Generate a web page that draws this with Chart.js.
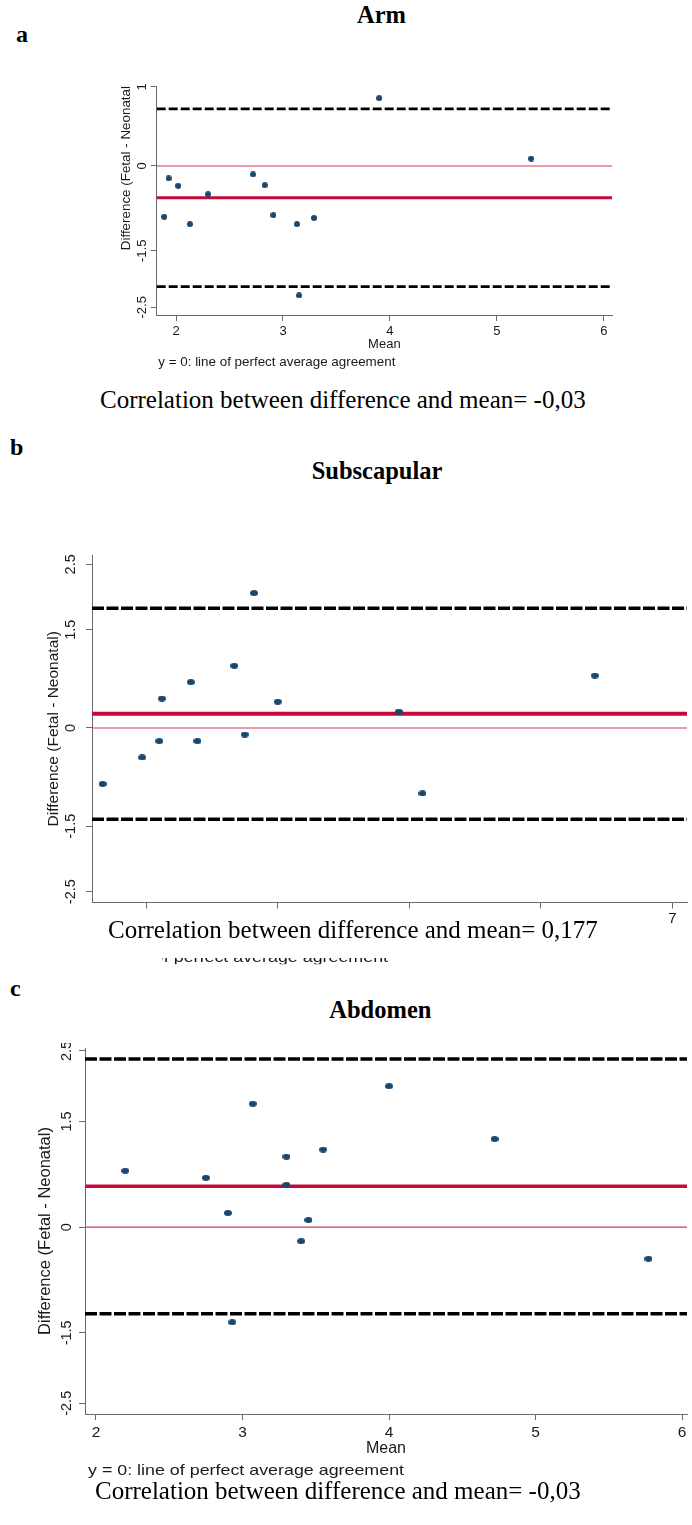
<!DOCTYPE html>
<html>
<head>
<meta charset="utf-8">
<script src="https://cdn.jsdelivr.net/npm/chart.js@4.4.1/dist/chart.umd.min.js"></script>
<style>
  body { margin: 0; background: #fff; }
  #page { position: relative; width: 692px; height: 1525px; overflow: hidden; background: #fff; }
  .wrap { position: absolute; }
  .t { position: absolute; white-space: nowrap; line-height: 1; color: #000; }
  .serif { font-family: "Liberation Serif", "Times New Roman", serif; }
  .bold { font-weight: bold; }
  .sans { font-family: "Liberation Sans", Arial, sans-serif; color: #1a1a1a; transform-origin: 0 0; }
  .panel { font-size: 24px; }
  .head { font-size: 24.5px; }
  .caption { font-size: 25px; }
</style>
</head>
<body>
<div id="page">
  <div class="wrap" style="left:80px;top:76px;width:540px;height:300px"><canvas id="armChart"></canvas></div>
  <div class="wrap" style="left:20px;top:548px;width:672px;height:412px"><canvas id="subChart"></canvas></div>
  <div class="wrap" style="left:20px;top:1043px;width:672px;height:419px"><canvas id="abdChart"></canvas></div>

  <div class="t serif bold panel" style="left:16px;top:21.6px">a</div>
  <div class="t serif bold head" style="left:357px;top:2.5px">Arm</div>
  <div class="t sans" style="left:158.3px;top:355.2px;font-size:13.4px">y = 0: line of perfect average agreement</div>
  <div class="t serif caption" style="left:100px;top:387px">Correlation between difference and mean= -0,03</div>

  <div class="t serif bold panel" style="left:10px;top:435px">b</div>
  <div class="t serif bold head" style="left:311.7px;top:458.5px">Subscapular</div>
  <!-- the subscapular note is mostly hidden behind the pasted caption -->
  <div class="t sans" style="left:72px;top:949.3px;font-size:15px;transform:scaleX(1.19);clip-path:inset(0 0 0 76px)">y = 0: line of perfect average agreement</div>
  <div class="t" style="left:70px;top:909px;width:540px;height:49px;background:#fff"></div>
  <div class="t serif caption" style="left:108px;top:916.6px">Correlation between difference and mean= 0,177</div>

  <div class="t serif bold panel" style="left:10px;top:976px">c</div>
  <div class="t serif bold head" style="left:329.3px;top:997.5px">Abdomen</div>
  <div class="t sans" style="left:88.3px;top:1462px;font-size:15px;transform:scaleX(1.19)">y = 0: line of perfect average agreement</div>
  <div class="t serif caption" style="left:95px;top:1478px">Correlation between difference and mean= -0,03</div>
</div>

<script>
// Arm
const armMean = [1.89, 1.93, 2.02, 2.13, 2.30, 2.72, 2.83, 2.91, 3.13, 3.29, 3.15, 3.90, 5.32];
const armDiff = [-0.90, -0.22, -0.35, -1.03, -0.50, -0.15, -0.34, -0.87, -1.03, -0.92, -2.29, 1.20, 0.13];
const armLimits = [1.01, -0.56, -2.135]; // upper limit, mean difference, lower limit
const armXTicks = [2, 3, 4, 5, 6];
const armYTicks = [1.4, 0, -1.5, -2.5];
const armYLabels = ['1', '0', '-1.5', '-2.5'];

// Subscapular
const subMean = [2.67, 2.97, 3.10, 3.12, 3.34, 3.39, 3.67, 3.75, 3.82, 4.00, 4.92, 5.10, 6.41];
const subDiff = [-0.855, -0.45, -0.20, 0.45, 0.70, -0.20, 0.95, -0.10, 2.06, 0.40, 0.25, -1.00, 0.80];
const subLimits = [1.828, 0.218, -1.395];
const subXTicks = [3, 4, 5, 6, 7];
const subYTicks = [2.5, 1.5, 0, -1.5, -2.5];
const subYLabels = ['2.5', '1.5', '0', '-1.5', '-2.5'];

// Abdomen
const abdMean = [2.20, 2.75, 2.90, 2.93, 3.07, 3.30, 3.30, 3.40, 3.45, 3.55, 4.00, 4.72, 5.77];
const abdDiff = [0.80, 0.70, 0.20, -1.35, 1.75, 1.00, 0.60, -0.20, 0.10, 1.10, 2.00, 1.25, -0.45];
const abdLimits = [2.386, 0.58, -1.229];
const abdXTicks = [2, 3, 4, 5, 6];
const abdYTicks = [2.5, 1.5, 0, -1.5, -2.5];
const abdYLabels = ['2.5', '1.5', '0', '-1.5', '-2.5'];

const SANS = '"Liberation Sans", Arial, sans-serif';
const NAVY = '#1a476f';
const INK = '#1a1a1a';
const AXIS = '#6a6a6a';

// small ellipse used as marker (the stata export is a bit stretched sideways)
function dot(w, h) {
    const c = document.createElement('canvas');
    c.width = w;
    c.height = h;
    const g = c.getContext('2d');
    g.fillStyle = NAVY;
    g.beginPath();
    g.ellipse(w / 2, h / 2, w / 2, h / 2, 0, 0, Math.PI * 2);
    g.fill();
    return c;
}

// y tick labels are drawn turned, like stata does
const turnedYLabels = {
    id: 'turnedYLabels',
    afterDraw(chart, args, opts) {
        const s = chart.scales.y;
        const ctx = chart.ctx;
        ctx.save();
        ctx.fillStyle = INK;
        ctx.font = opts.size + 'px ' + SANS;
        ctx.textAlign = 'center';
        ctx.textBaseline = 'middle';
        opts.values.forEach((v, i) => {
            ctx.save();
            ctx.translate(s.right - opts.offset, s.getPixelForValue(v));
            ctx.rotate(-Math.PI / 2);
            ctx.fillText(opts.labels[i], 0, 0);
            ctx.restore();
        });
        ctx.restore();
    }
};

function drawPanel(id, p) {
    const points = p.mean.map((m, i) => ({ x: m, y: p.diff[i] }));
    const across = v => [{ x: p.xRange[0], y: v }, { x: p.xRange[1], y: v }];
    const flat = { type: 'line', pointRadius: 0, pointHitRadius: 0, fill: false, tension: 0 };

    new Chart(document.getElementById(id), {
        type: 'scatter',
        data: {
            datasets: [
                { data: points, pointStyle: dot(p.dot[0], p.dot[1]), pointRadius: 4 },
                { ...flat, data: across(p.limits[1]), borderColor: '#c40a3a', borderWidth: p.meanW },
                { ...flat, data: across(0), borderColor: '#d63a58', borderWidth: 1.2 },
                { ...flat, data: across(p.limits[0]), borderColor: '#000', borderWidth: p.dashW, borderDash: p.dash },
                { ...flat, data: across(p.limits[2]), borderColor: '#000', borderWidth: p.dashW, borderDash: p.dash }
            ]
        },
        options: {
            responsive: true,
            maintainAspectRatio: false,
            animation: false,
            devicePixelRatio: 1,
            layout: { padding: p.pad },
            plugins: {
                legend: { display: false },
                tooltip: { enabled: false },
                turnedYLabels: { values: p.yTicks, labels: p.yLabels, offset: p.yLabelOffset, size: p.yLabelSize }
            },
            scales: {
                x: {
                    type: 'linear',
                    min: p.xRange[0],
                    max: p.xRange[1],
                    afterBuildTicks: s => { s.ticks = p.xTicks.map(v => ({ value: v })); },
                    afterFit: s => { s.height = p.xAxisH; },
                    grid: { drawOnChartArea: false, drawTicks: true, tickLength: 6, color: AXIS },
                    border: { display: true, color: AXIS, width: 1 },
                    ticks: {
                        autoSkip: false, maxRotation: 0, color: INK, padding: p.xTickPad,
                        font: { family: SANS, size: p.xTickSize },
                        callback: v => String(v)
                    },
                    title: {
                        display: true, text: 'Mean', color: INK,
                        font: { family: SANS, size: p.meanSize },
                        padding: { top: 0, bottom: p.meanPad }
                    }
                },
                y: {
                    type: 'linear',
                    min: p.yRange[0],
                    max: p.yRange[1],
                    afterBuildTicks: s => { s.ticks = p.yTicks.map(v => ({ value: v })); },
                    afterFit: s => { s.width = p.yAxisW; },
                    grid: { drawOnChartArea: false, drawTicks: true, tickLength: 6, color: AXIS },
                    border: { display: true, color: AXIS, width: 1 },
                    ticks: { display: false },
                    title: {
                        display: true, text: p.yTitle, color: INK, align: p.yTitleAlign,
                        font: { family: SANS, size: p.yTitleSize },
                        padding: { top: p.yTitlePad, bottom: 0 }
                    }
                }
            }
        },
        plugins: [turnedYLabels]
    });
}

drawPanel('armChart', {
    mean: armMean, diff: armDiff, limits: armLimits,
    xTicks: armXTicks, yTicks: armYTicks, yLabels: armYLabels,
    xRange: [1.8196, 6.075], yRange: [-2.636, 1.415],
    pad: { left: 0, right: 8, top: 10, bottom: 0 },
    yAxisW: 76.7, xAxisH: 61,
    xTickSize: 13, xTickPad: 2.9, meanSize: 13, meanPad: 24.2,
    yTitle: 'Difference (Fetal - Neonatal', yTitleAlign: 'end', yTitleSize: 13.4, yTitlePad: 38.5,
    yLabelOffset: 14.3, yLabelSize: 13,
    dot: [6, 6], meanW: 3, dashW: 2.8, dash: [9, 3]
});

drawPanel('subChart', {
    mean: subMean, diff: subDiff, limits: subLimits,
    xTicks: subXTicks, yTicks: subYTicks, yLabels: subYLabels,
    xRange: [2.589, 7.11], yRange: [-2.665, 2.642],
    pad: { left: 0, right: 0, top: 7, bottom: 0 },
    yAxisW: 72, xAxisH: 57.5,
    xTickSize: 15, xTickPad: 1.5, meanSize: 16, meanPad: 6,
    yTitle: 'Difference (Fetal - Neonatal)', yTitleAlign: 'center', yTitleSize: 15.5, yTitlePad: 24.7,
    yLabelOffset: 21, yLabelSize: 14.5,
    dot: [8, 6], meanW: 4, dashW: 3.5, dash: [12, 2.5]
});

drawPanel('abdChart', {
    mean: abdMean, diff: abdDiff, limits: abdLimits,
    xTicks: abdXTicks, yTicks: abdYTicks, yLabels: abdYLabels,
    xRange: [1.925, 6.033], yRange: [-2.652, 2.542],
    pad: { left: 0, right: 0, top: 3, bottom: 0 },
    yAxisW: 65, xAxisH: 48,
    xTickSize: 15.5, xTickPad: 3.4, meanSize: 16, meanPad: 3.4,
    yTitle: 'Difference (Fetal - Neonatal)', yTitleAlign: 'center', yTitleSize: 16.5, yTitlePad: 15.1,
    yLabelOffset: 18, yLabelSize: 14.5,
    dot: [8, 6], meanW: 3.5, dashW: 3.5, dash: [12, 2.5]
});
</script>
</body>
</html>
